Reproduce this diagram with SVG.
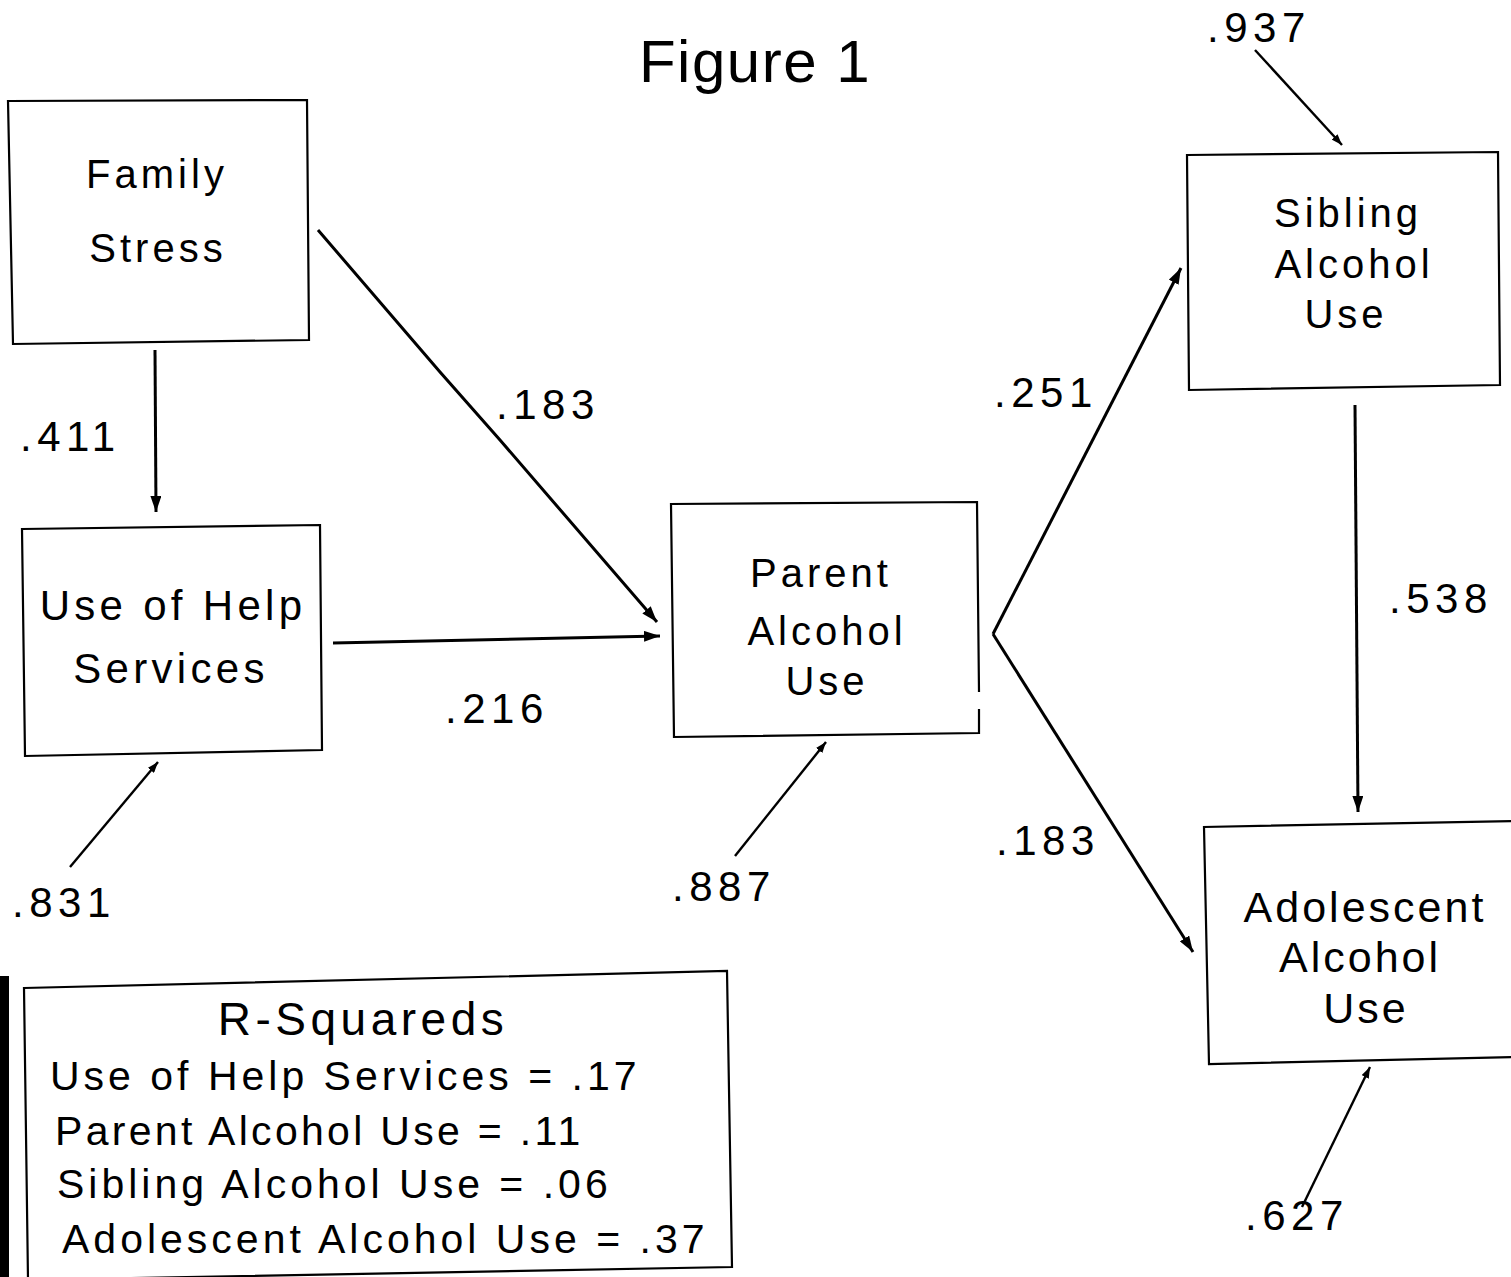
<svg xmlns="http://www.w3.org/2000/svg" width="1511" height="1277" viewBox="0 0 1511 1277">
<style>
.box{fill:none;stroke:#000;stroke-width:2.2}
.lab{font-family:"Liberation Sans",Arial,sans-serif;font-size:40px;letter-spacing:4px;fill:#000;text-anchor:middle}
.num{font-family:"Liberation Sans",Arial,sans-serif;font-size:42px;letter-spacing:5.5px;fill:#000}
.rsq{font-family:"Liberation Sans",Arial,sans-serif;font-size:41px;letter-spacing:4px;fill:#000}
.con{fill:none;stroke:#000;stroke-width:3}
.res{fill:none;stroke:#000;stroke-width:2.4}
</style>
<defs>
<marker id="ah" viewBox="0 0 16 11" refX="16" refY="5.5" markerWidth="16" markerHeight="11" orient="auto" markerUnits="userSpaceOnUse"><path d="M0,0 L16,5.5 L0,11 z" fill="#000"/></marker>
<marker id="ahs" viewBox="0 0 11 8" refX="11" refY="4" markerWidth="11" markerHeight="8" orient="auto" markerUnits="userSpaceOnUse"><path d="M0,0 L11,4 L0,8 z" fill="#000"/></marker>
</defs>
<rect width="1511" height="1277" fill="#fff"/>
<rect x="0" y="976" width="9" height="301" fill="#000"/>
<text x="755" y="82" font-family="Liberation Sans, Arial, sans-serif" font-size="60" letter-spacing="1.5" text-anchor="middle">Figure 1</text>

<g id="family-stress">
<polygon class="box" points="8,101 307,100 309,340 13,344"/>
<text class="lab" x="157" y="188">Family</text>
<text class="lab" x="158" y="262">Stress</text>
</g>
<g id="help-services">
<polygon class="box" points="22,529 320,525 322,750 25,756"/>
<text class="lab" x="173" y="620" style="font-size:42px;letter-spacing:4.3px">Use of Help</text>
<text class="lab" x="171" y="683" style="font-size:42px;letter-spacing:4.3px">Services</text>
</g>
<g id="parent-alcohol">
<path class="box" d="M979,692 L977,502 L671,504 L674,737 L979,733 L979,709"/>
<text class="lab" x="821" y="587">Parent</text>
<text class="lab" x="827" y="645">Alcohol</text>
<text class="lab" x="827" y="695">Use</text>
</g>
<g id="sibling-alcohol">
<polygon class="box" points="1187,155 1498,152 1500,385 1189,390"/>
<text class="lab" x="1348" y="227">Sibling</text>
<text class="lab" x="1354" y="278">Alcohol</text>
<text class="lab" x="1346" y="328">Use</text>
</g>
<g id="adolescent-alcohol">
<path class="box" d="M1513,821 L1204,827 L1209,1064 L1513,1057"/>
<text class="lab" x="1365" y="922" style="font-size:43px;letter-spacing:3px">Adolescent</text>
<text class="lab" x="1360" y="972" style="font-size:43px;letter-spacing:3px">Alcohol</text>
<text class="lab" x="1366" y="1023" style="font-size:43px;letter-spacing:3px">Use</text>
</g>
<g id="r-squareds">
<polygon class="box" points="24,988 727,971 732,1267 28,1280"/>
<text x="363" y="1035" font-family="Liberation Sans, Arial, sans-serif" font-size="46" letter-spacing="4.5" text-anchor="middle">R-Squareds</text>
<text class="rsq" x="50" y="1090">Use of Help Services = .17</text>
<text class="rsq" x="55" y="1145" style="letter-spacing:3.3px">Parent Alcohol Use = .11</text>
<text class="rsq" x="57" y="1198">Sibling Alcohol Use = .06</text>
<text class="rsq" x="62" y="1253">Adolescent Alcohol Use = .37</text>
</g>

<g id="connectors">
<line class="con" x1="155" y1="350" x2="156" y2="512" marker-end="url(#ah)"/>
<path class="con" d="M318,230 L440,372 L500,440 L657,622" marker-end="url(#ah)"/>
<line class="con" x1="333" y1="643" x2="660" y2="636" marker-end="url(#ah)"/>
<line class="con" x1="993" y1="634" x2="1181" y2="268" marker-end="url(#ah)"/>
<line class="con" x1="993" y1="634" x2="1193" y2="952" marker-end="url(#ah)"/>
<line class="con" x1="1355" y1="405" x2="1358" y2="812" marker-end="url(#ah)"/>
<line class="res" x1="1255" y1="50" x2="1342" y2="145" marker-end="url(#ahs)"/>
<line class="res" x1="70" y1="867" x2="158" y2="762" marker-end="url(#ahs)"/>
<line class="res" x1="735" y1="856" x2="826" y2="742" marker-end="url(#ahs)"/>
<line class="res" x1="1302" y1="1207" x2="1370" y2="1067" marker-end="url(#ahs)"/>
</g>

<g id="labels">
<text class="num" x="20" y="451">.411</text>
<text class="num" x="496" y="419">.183</text>
<text class="num" x="445" y="723">.216</text>
<text class="num" x="994" y="407">.251</text>
<text class="num" x="996" y="855">.183</text>
<text class="num" x="1389" y="613">.538</text>
<text class="num" x="12" y="917">.831</text>
<text class="num" x="672" y="901">.887</text>
<text class="num" x="1207" y="42">.937</text>
<text class="num" x="1245" y="1230">.627</text>
</g>
</svg>
